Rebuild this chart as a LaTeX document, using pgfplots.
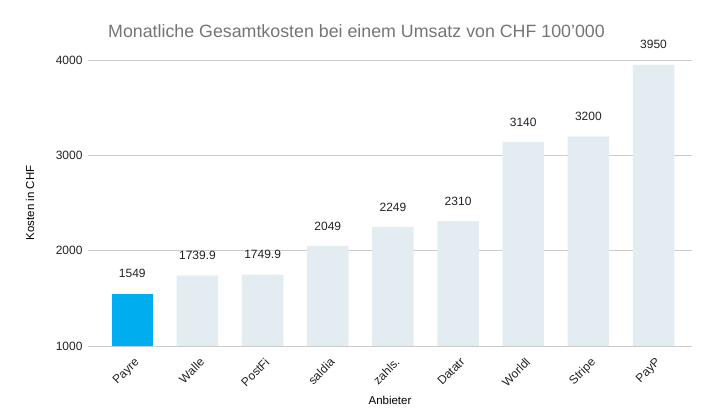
\documentclass[border=0pt]{standalone}
\usepackage{pgfplots}
\usepackage{pgfplotstable}
\pgfplotsset{compat=1.18}
\usepackage{fontspec}
\setmainfont{Liberation Sans}
\definecolor{hl}{HTML}{00AEEF}
\definecolor{lt}{HTML}{E3ECF1}
\definecolor{gridc}{HTML}{CCCCCC}
\definecolor{titlec}{HTML}{757575}
\definecolor{txt}{HTML}{222222}
\pgfplotstableread{
x y lab
0 1549 1549
}\first
\pgfplotstableread{
x y lab
1 1739.9 1739.9
2 1749.9 1749.9
3 2049 2049
4 2249 2249
5 2310 2310
6 3140 3140
7 3200 3200
8 3950 3950
}\rest
\begin{document}
\begin{tikzpicture}[x=1pt,y=1pt]
\path[use as bounding box] (0,0) rectangle (713,415);
\node[font=\fontsize{17.8}{21}\selectfont, text=titlec] at (356.5,384) {Monatliche Gesamtkosten bei einem Umsatz von CHF 100'000};
\begin{axis}[
  at={(88pt,69pt)}, anchor=south west,
  scale only axis, width=604pt, height=286pt,
  xmin=-0.68, xmax=8.59, ymin=1000, ymax=4000,
  ytick={1000,2000,3000,4000},
  xtick={0,1,2,3,4,5,6,7,8},
  xticklabels={Payre,Walle,PostFi,saldia,zahls.,Datatr,Worldl,Stripe,PayP},
  ymajorgrids, major grid style={gridc, line width=0.8pt},
  axis line style={draw=none},
  major tick length=0pt,
  clip=false,
  /pgf/number format/assume math mode=true,
  /pgf/number format/1000 sep={},
  ticklabel style={font=\fontsize{12}{14}\selectfont, text=txt},
  yticklabel style={xshift=-2pt},
  xticklabel style={xshift=1.5pt, yshift=-6pt, rotate=45, anchor=north east},
  xlabel={Anbieter}, ylabel={Kosten in CHF},
  label style={font=\fontsize{11.5}{13}\selectfont, text=black},
  xlabel style={at={(axis description cs:0.5,-0.189)}, anchor=center},
  ylabel style={at={(axis description cs:-0.096,0.5)}, anchor=center},
  ybar, bar width=41.5pt, bar shift=0pt,
  point meta=explicit symbolic,
  nodes near coords,
  nodes near coords style={font=\fontsize{12}{14}\selectfont, text=txt, anchor=center, yshift=20pt},
]
\addplot[fill=hl, draw=none] table[x=x, y=y, meta=lab] {\first};
\addplot[fill=lt, draw=none] table[x=x, y=y, meta=lab] {\rest};
\end{axis}
\end{tikzpicture}
\end{document}
